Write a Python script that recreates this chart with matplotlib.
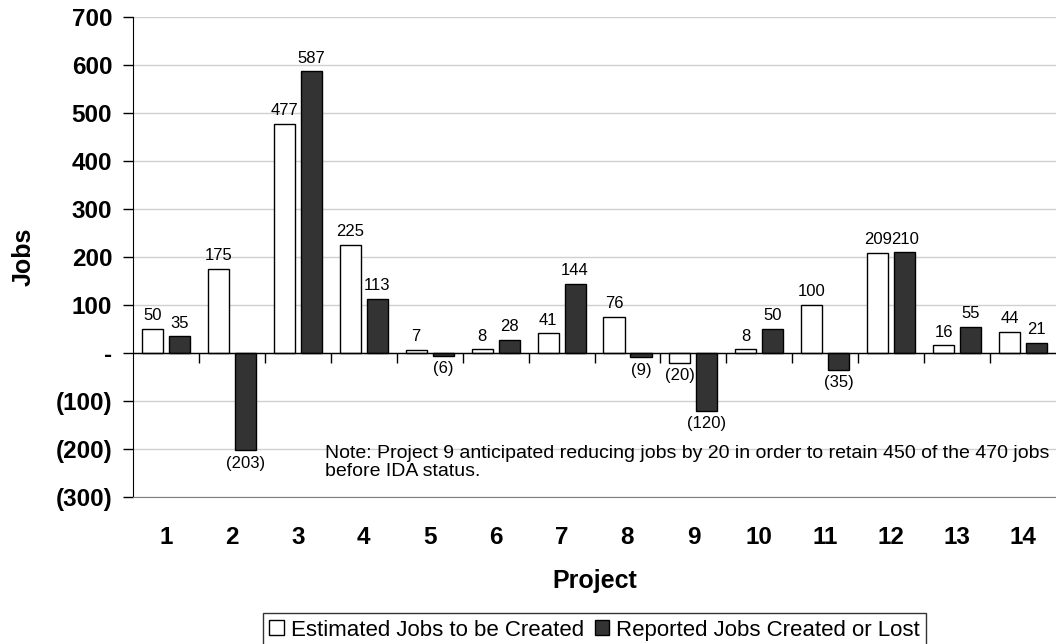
import matplotlib
matplotlib.use('Agg')
import matplotlib.pyplot as plt
import numpy as np

projects = [str(i) for i in range(1, 15)]
estimated = [50, 175, 477, 225, 7, 8, 41, 76, -20, 8, 100, 209, 16, 44]
reported = [35, -203, 587, 113, -6, 28, 144, -9, -120, 50, -35, 210, 55, 21]
y_ticks = [-300, -200, -100, 0, 100, 200, 300, 400, 500, 600, 700]

plt.rcParams['font.family'] = ['Liberation Sans', 'DejaVu Sans']


def fmt(v):
    if v < 0:
        return '({:,})'.format(-v)
    if v == 0:
        return '-'
    return '{:,}'.format(v)


fig = plt.figure(figsize=(10.56, 6.44), dpi=100)
ax = fig.add_axes([0.126, 0.2283, 0.874, 0.7453])

x = np.arange(1, len(projects) + 1)
w = 0.32
off = 0.205
b1 = ax.bar(x - off, estimated, w, color='white', edgecolor='black', linewidth=1,
            label='Estimated Jobs to be Created', zorder=3)
b2 = ax.bar(x + off, reported, w, color='#333333', edgecolor='black', linewidth=1,
            label='Reported Jobs Created or Lost', zorder=3)

for bars, vals in ((b1, estimated), (b2, reported)):
    for rect, v in zip(bars, vals):
        cx = rect.get_x() + rect.get_width() / 2
        if v >= 0:
            ax.annotate(fmt(v), (cx, v), xytext=(0, 4), textcoords='offset points',
                        ha='center', va='bottom', fontsize=12)
        else:
            ax.annotate(fmt(v), (cx, v), xytext=(0, -4), textcoords='offset points',
                        ha='center', va='top', fontsize=12)

ax.set_xlim(0.5, len(projects) + 0.5)
ax.set_ylim(-300, 700)
ax.set_yticks(y_ticks)
ax.set_yticklabels([fmt(v) for v in y_ticks], fontsize=17.5, fontweight='bold')
ax.set_xticks(x)
ax.set_xticklabels(projects, fontsize=17.5, fontweight='bold')
ax.tick_params(axis='x', length=0, pad=21)
ax.tick_params(axis='y', direction='out', length=7, width=1, pad=8)

ax.yaxis.grid(True, color='#d0d0d0', linewidth=1, zorder=0)
ax.set_axisbelow(True)
ax.spines['right'].set_visible(False)
ax.spines['top'].set_visible(False)
ax.spines['bottom'].set_color('#808080')
ax.spines['left'].set_color('black')

# zero baseline with category separator ticks
ax.axhline(0, color='black', linewidth=1, zorder=4)
ax.vlines(x[:-1] + 0.5, -20, 0, color='black', linewidth=1, zorder=4)

ax.set_ylabel('Jobs', fontsize=18, fontweight='bold', labelpad=14)
ax.set_xlabel('Project', fontsize=18, fontweight='bold', labelpad=14)

ax.text(0.2085, 0.108,
        'Note: Project 9 anticipated reducing jobs by 20 in order to retain 450 of the 470 jobs\nbefore IDA status.',
        transform=ax.transAxes, fontsize=14, va='top', ha='left', linespacing=1.1)

leg = fig.legend(handles=[b1, b2], loc='upper center', bbox_to_anchor=(0.563, 0.0481),
                 ncol=2, frameon=True, fancybox=False, edgecolor='black',
                 fontsize=16, handlelength=0.65, handleheight=0.65, handletextpad=0.3,
                 columnspacing=0.5, borderpad=0.3, borderaxespad=0)
leg.get_frame().set_linewidth(1)

fig.savefig('out.png', dpi=100)
